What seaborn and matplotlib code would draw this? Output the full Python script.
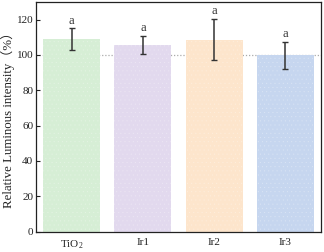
import matplotlib
matplotlib.use("Agg")
import matplotlib.pyplot as plt
import seaborn as sns
import pandas as pd

categories = ["TiO$_2$", "Ir1", "Ir2", "Ir3"]
values = [109.0, 105.6, 108.7, 99.7]
errors = [6.0, 5.0, 11.7, 7.6]
letters = ["a", "a", "a", "a"]
colors = ["#d6eed5", "#e2d9ee", "#fde5cc", "#c6d6ef"]

sns.set_theme(style="white")
plt.rcParams["font.family"] = ["Liberation Serif", "Noto Sans CJK SC"]
plt.rcParams["mathtext.fontset"] = "custom"
plt.rcParams["mathtext.rm"] = "Liberation Serif"
plt.rcParams["mathtext.it"] = "Liberation Serif"
plt.rcParams["hatch.linewidth"] = 0.3

df = pd.DataFrame({"cat": categories, "val": values})

fig = plt.figure(figsize=(3.24, 2.52), dpi=100)
ax = fig.add_axes([36/324, 1 - 231.5/252, (321-36)/324, (231.5-2)/252])

ax.axhline(100, color="#aaaaaa", linestyle=(0, (1, 1.5)), linewidth=0.9, zorder=0)
sns.barplot(data=df, x="cat", y="val", hue="cat", palette=colors, legend=False,
            width=0.8, ax=ax, errorbar=None, linewidth=0, zorder=2, saturation=1)
for p in ax.patches:
    p.set_hatch("....")
    p.set_edgecolor((1, 1, 1, 0.25))
    p.set_linewidth(0)

ax.errorbar(range(len(categories)), values, yerr=errors, fmt="none",
            ecolor="#333333", elinewidth=1.1, capsize=2.5, capthick=1.0, zorder=3)
for i, (v, e, t) in enumerate(zip(values, errors, letters)):
    ax.text(i, v + e + 1.0, t, ha="center", va="bottom", fontsize=9, color="#333333")

ax.set_ylim(0, 130)
ax.set_xlim(-0.5, 3.5)
ax.set_yticks([0, 20, 40, 60, 80, 100, 120])
ax.set_xlabel("")
ax.set_ylabel("Relative Luminous intensity（%）", fontsize=9.3, color="#222222")
ax.yaxis.set_label_coords(-0.072, 0.5)
ax.tick_params(axis="both", direction="in", length=3, width=0.8, labelsize=8,
               colors="#222222", left=True, bottom=True)
ax.tick_params(axis="y", pad=2)
ax.tick_params(axis="x", pad=5)
for s in ax.spines.values():
    s.set_color("#222222")
    s.set_linewidth(0.9)

fig.savefig("out.png", dpi=100)
